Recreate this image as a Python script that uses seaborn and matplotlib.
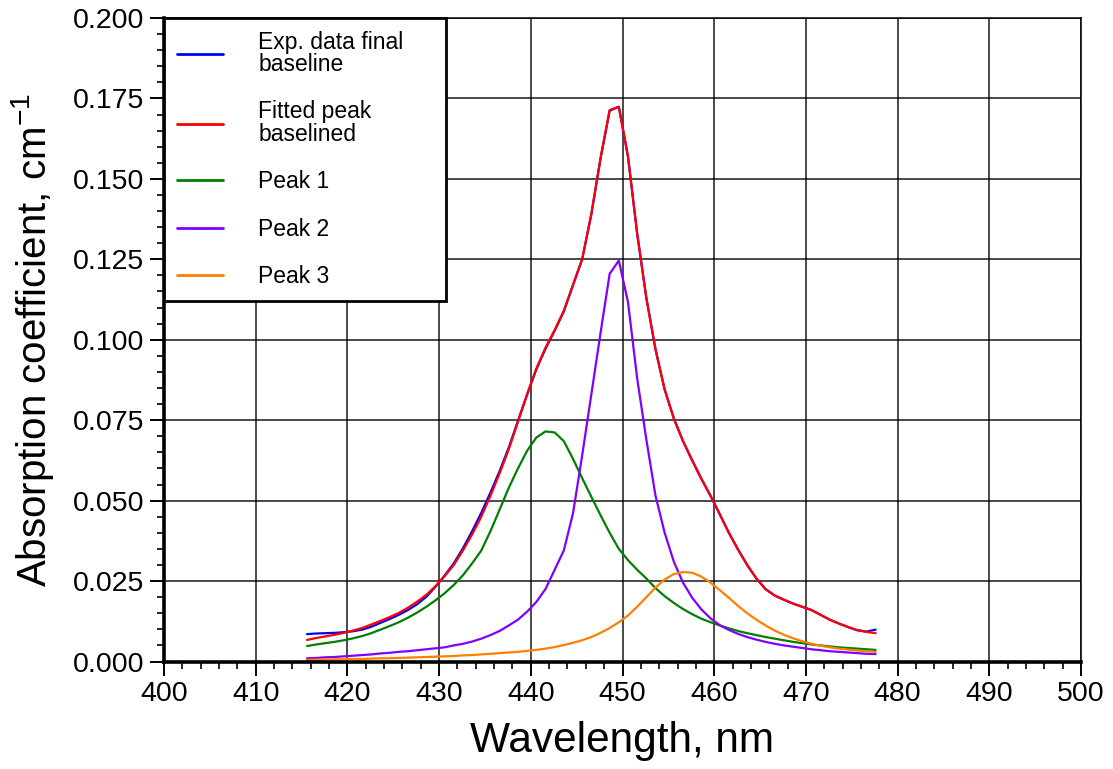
import numpy as np
import pandas as pd
import matplotlib
matplotlib.use("Agg")
import matplotlib.pyplot as plt
import seaborn as sns
from matplotlib.ticker import MultipleLocator

wavelength = [415.6 + k for k in range(63)]

exp_data = [0.0085, 0.0087, 0.0088, 0.0089, 0.0091, 0.0094, 0.0099, 0.0108, 0.0120, 0.0132,
            0.0145, 0.0160, 0.0178, 0.0201, 0.0232, 0.0267, 0.0305, 0.0352, 0.0405, 0.0462,
            0.0525, 0.0592, 0.0665, 0.0748, 0.0830, 0.0908, 0.0972, 0.1028, 0.1088, 0.1170,
            0.1250, 0.1390, 0.1563, 0.1712, 0.1724, 0.1569, 0.1330, 0.1130, 0.0970, 0.0845,
            0.0755, 0.0685, 0.0625, 0.0568, 0.0515, 0.0458, 0.0400, 0.0348, 0.0300, 0.0258,
            0.0225, 0.0205, 0.0192, 0.0180, 0.0170, 0.0160, 0.0145, 0.0130, 0.0118, 0.0107,
            0.0097, 0.0093, 0.0099]

fit_total = [0.0067, 0.0073, 0.0078, 0.0083, 0.0089, 0.0096, 0.0104, 0.0115, 0.0126, 0.0138,
             0.0151, 0.0167, 0.0186, 0.0207, 0.0234, 0.0265, 0.0300, 0.0345, 0.0395, 0.0450,
             0.0515, 0.0585, 0.0660, 0.0745, 0.0830, 0.0910, 0.0975, 0.1030, 0.1090, 0.1170,
             0.1250, 0.1390, 0.1563, 0.1714, 0.1724, 0.1569, 0.1330, 0.1130, 0.0970, 0.0845,
             0.0755, 0.0685, 0.0625, 0.0568, 0.0515, 0.0458, 0.0400, 0.0348, 0.0300, 0.0258,
             0.0225, 0.0205, 0.0192, 0.0180, 0.0170, 0.0160, 0.0145, 0.0130, 0.0118, 0.0107,
             0.0098, 0.0092, 0.0088]

peak1 = [0.0048, 0.0053, 0.0057, 0.0061, 0.0066, 0.0072, 0.0079, 0.0088, 0.0099, 0.0110,
         0.0122, 0.0136, 0.0152, 0.0170, 0.0190, 0.0212, 0.0238, 0.0268, 0.0305, 0.0345,
         0.0405, 0.0472, 0.0540, 0.0600, 0.0655, 0.0696, 0.0715, 0.0712, 0.0685, 0.0630,
         0.0570, 0.0512, 0.0455, 0.0400, 0.0350, 0.0315, 0.0285, 0.0258, 0.0228, 0.0203,
         0.0182, 0.0163, 0.0147, 0.0133, 0.0122, 0.0112, 0.0103, 0.0095, 0.0088, 0.0082,
         0.0076, 0.0071, 0.0066, 0.0061, 0.0057, 0.0053, 0.0050, 0.0047, 0.0044, 0.0042,
         0.0040, 0.0038, 0.0036]

peak2 = [0.0010, 0.0011, 0.0013, 0.0014, 0.0016, 0.0018, 0.0020, 0.0022, 0.0025, 0.0027,
         0.0030, 0.0032, 0.0035, 0.0038, 0.0041, 0.0044, 0.0050, 0.0055, 0.0062, 0.0071,
         0.0082, 0.0095, 0.0112, 0.0130, 0.0155, 0.0185, 0.0225, 0.0285, 0.0345, 0.0460,
         0.0640, 0.0830, 0.1020, 0.1205, 0.1246, 0.1117, 0.0880, 0.0690, 0.0515, 0.0400,
         0.0310, 0.0245, 0.0198, 0.0162, 0.0134, 0.0113, 0.0098, 0.0086, 0.0076, 0.0068,
         0.0061, 0.0055, 0.0050, 0.0046, 0.0042, 0.0038, 0.0035, 0.0032, 0.0030, 0.0028,
         0.0026, 0.0024, 0.0023]

peak3 = [0.0005, 0.0006, 0.0006, 0.0007, 0.0007, 0.0008, 0.0008, 0.0009, 0.0010, 0.0010,
         0.0011, 0.0012, 0.0013, 0.0014, 0.0015, 0.0016, 0.0017, 0.0019, 0.0020, 0.0022,
         0.0024, 0.0026, 0.0028, 0.0030, 0.0033, 0.0036, 0.0040, 0.0045, 0.0051, 0.0058,
         0.0066, 0.0076, 0.0089, 0.0104, 0.0122, 0.0143, 0.0170, 0.0200, 0.0230, 0.0255,
         0.0272, 0.0278, 0.0276, 0.0264, 0.0245, 0.0222, 0.0198, 0.0173, 0.0150, 0.0130,
         0.0112, 0.0096, 0.0083, 0.0072, 0.0063, 0.0055, 0.0049, 0.0044, 0.0040, 0.0037,
         0.0034, 0.0032, 0.0030]

series_labels = ["Exp. data final\nbaseline", "Fitted peak\nbaselined", "Peak 1", "Peak 2", "Peak 3"]
series_colors = ["#0000ff", "#ff0000", "#008000", "#8000ff", "#ff8000"]

sns.set_theme(style="white")
plt.rcParams["font.family"] = ["Liberation Sans", "DejaVu Sans"]
plt.rcParams["mathtext.fontset"] = "custom"
plt.rcParams["mathtext.rm"] = "Liberation Sans"
plt.rcParams["mathtext.it"] = "Liberation Sans"
plt.rcParams["text.color"] = "black"
plt.rcParams["axes.labelcolor"] = "black"
plt.rcParams["xtick.color"] = "black"
plt.rcParams["ytick.color"] = "black"

fig = plt.figure(figsize=(11.13, 7.69), dpi=100)
ax = fig.add_axes([164 / 1113, 1 - 661.5 / 769, (1081 - 164) / 1113, (661.5 - 18) / 769])

for vals, lab, col in zip([exp_data, fit_total, peak1, peak2, peak3], series_labels, series_colors):
    sns.lineplot(x=wavelength, y=vals, ax=ax, color=col, label=lab, linewidth=1.6,
                 sort=False, estimator=None)

ax.set_xlim(400, 500)
ax.set_ylim(0, 0.2)
ax.xaxis.set_major_locator(MultipleLocator(10))
ax.xaxis.set_minor_locator(MultipleLocator(2))
ax.yaxis.set_major_locator(MultipleLocator(0.025))
ax.yaxis.set_minor_locator(MultipleLocator(0.005))
ax.yaxis.set_major_formatter(matplotlib.ticker.FormatStrFormatter("%.3f"))

ax.grid(True, which="major", color="black", linewidth=1.1, alpha=0.9)
ax.set_axisbelow(True)

for s in ["left", "bottom"]:
    ax.spines[s].set_linewidth(2.6)
    ax.spines[s].set_color("black")
for s in ["top", "right"]:
    ax.spines[s].set_linewidth(1.1)
    ax.spines[s].set_color("black")

ax.tick_params(which="major", direction="out", length=10, width=1.4, labelsize=20.5,
               colors="black", bottom=True, left=True, pad=4)
ax.tick_params(which="minor", direction="out", length=5, width=1.2, colors="black",
               bottom=True, left=True)

ax.set_xlabel("Wavelength, nm", fontsize=30.5, labelpad=10)
ax.set_ylabel("Absorption coefficient, cm$^{-1}$", fontsize=29, labelpad=12)

leg_w = (446 - 164) / (1081 - 164)
leg = ax.legend(loc="upper left", bbox_to_anchor=(0, 0, leg_w, 1), mode="expand",
                borderaxespad=0, fontsize=16.5,
                frameon=True, fancybox=False, edgecolor="black", framealpha=1,
                handlelength=2.0, handletextpad=1.55, labelspacing=1.07, borderpad=0.56)
leg.get_frame().set_linewidth(2.0)
for h in leg.get_lines():
    h.set_linewidth(2.0)
for t in leg.get_texts():
    t.set_linespacing(0.95)

fig.savefig("out.png", dpi=100)
